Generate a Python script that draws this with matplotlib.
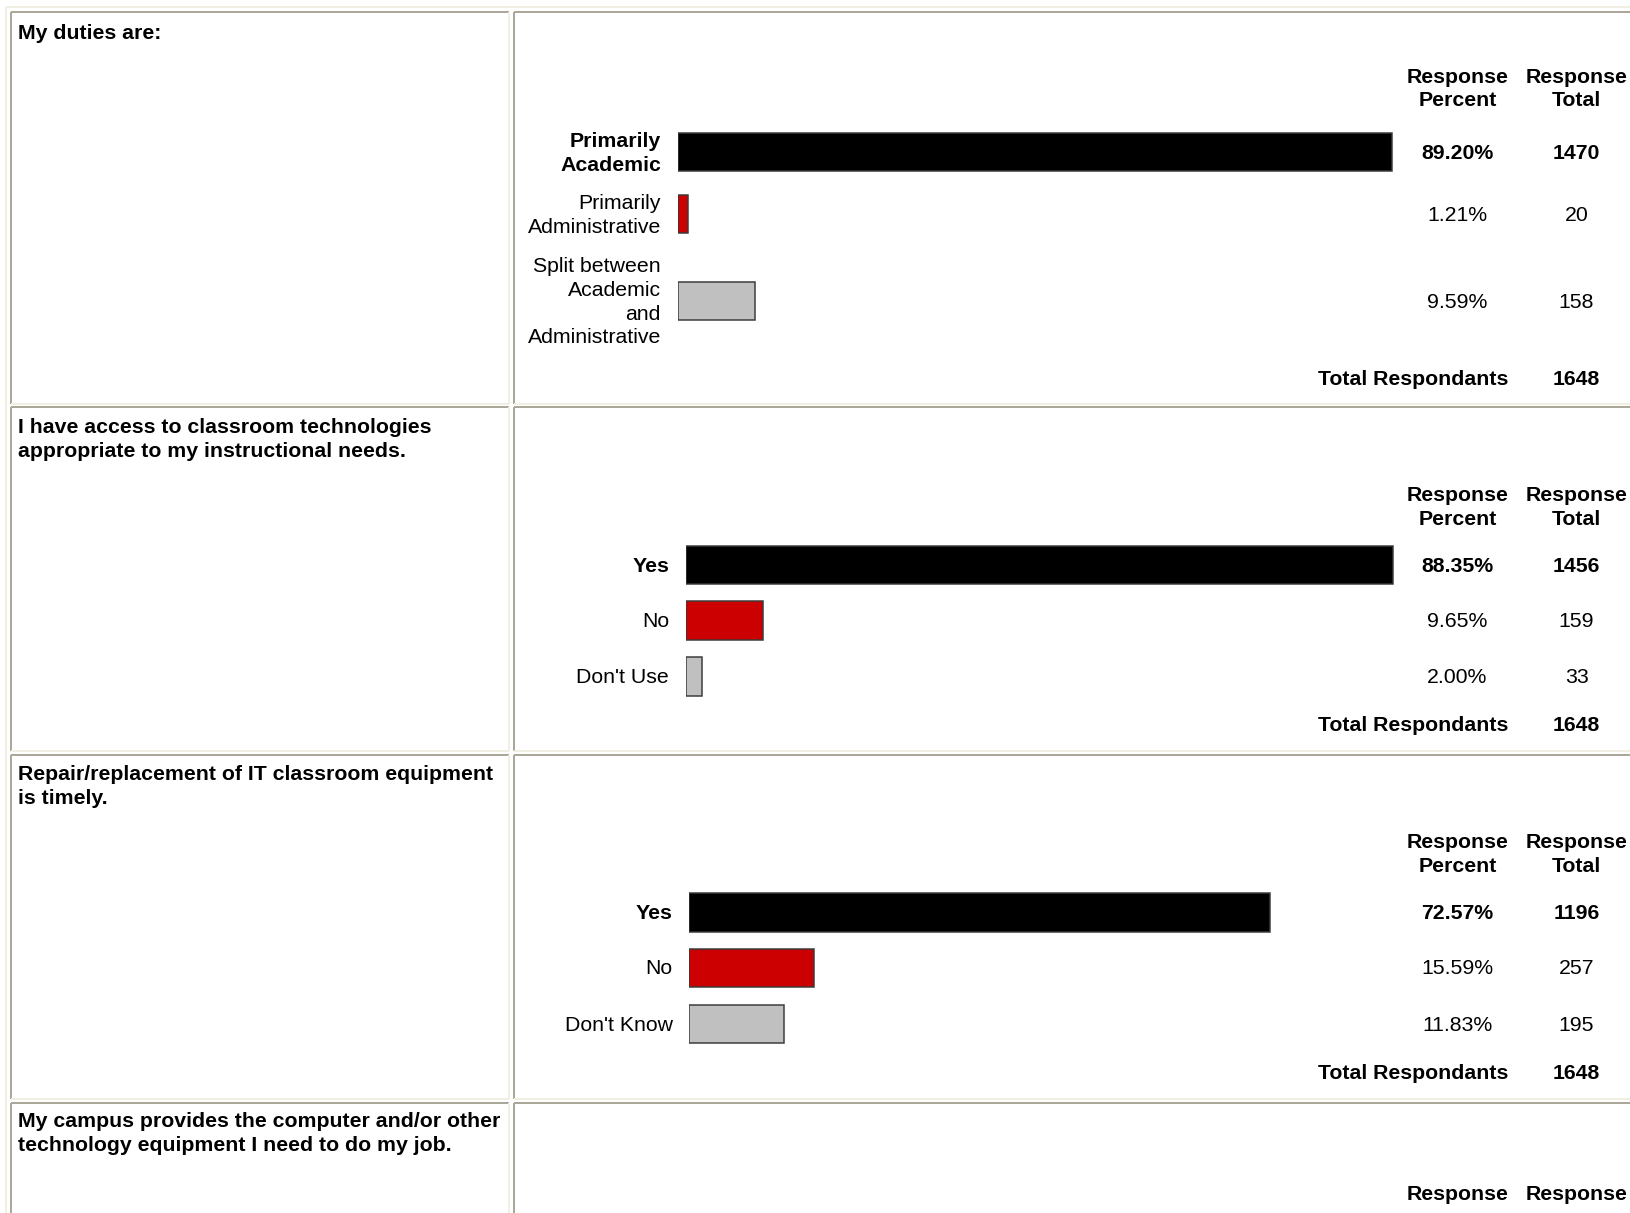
import matplotlib
matplotlib.use("Agg")
import matplotlib.pyplot as plt

W, H = 1630, 1213
DPI = 100
PX = 72.0 / DPI  # points per pixel

# ---------------- data ----------------
titles = [
    "My duties are:",
    "I have access to classroom technologies\nappropriate to my instructional needs.",
    "Repair/replacement of IT classroom equipment\nis timely.",
    "My campus provides the computer and/or other\ntechnology equipment I need to do my job.",
]
q1_labels = ["Primarily\nAcademic", "Primarily\nAdministrative",
             "Split between\nAcademic\nand\nAdministrative"]
q1_pct = [89.20, 1.21, 9.59]
q1_total = [1470, 20, 158]

q2_labels = ["Yes", "No", "Don't Use"]
q2_pct = [88.35, 9.65, 2.00]
q2_total = [1456, 159, 33]

q3_labels = ["Yes", "No", "Don't Know"]
q3_pct = [72.57, 15.59, 11.83]
q3_total = [1196, 257, 195]

respondents = [1648, 1648, 1648]
header = ["Response\nPercent", "Response\nTotal"]
total_label = "Total Respondants"
bar_colors = ["#000000", "#CC0000", "#C0C0C0"]

# ---------------- layout (pixels) ----------------
panels = [
    dict(top=12, bottom=404, title_y=[32], head_y=[76, 99.5],
         row_y=[152, 214, 301], total_y=378, lab_x=661, bar_x=678),
    dict(top=407, bottom=751, title_y=[426, 450], head_y=[494, 518],
         row_y=[565, 620.6, 676.7], total_y=724.5, lab_x=669, bar_x=686),
    dict(top=755, bottom=1099, title_y=[773, 797], head_y=[841, 865],
         row_y=[912.7, 967.8, 1024], total_y=1072.8, lab_x=672.6, bar_x=689),
    dict(top=1103, bottom=None, title_y=[1120.6, 1144.5], head_y=[1193.5]),
]
questions = [(q1_labels, q1_pct, q1_total), (q2_labels, q2_pct, q2_total),
             (q3_labels, q3_pct, q3_total)]

FPX = 21.3
FS = FPX * PX
CAP = 0.716 * FPX / 2 - 1.0   # baseline offset from visual centre (px)
LINE = 23.8
PCT_X = 1457.5
TOT_X = 1576.5
FULL = 800            # px for 100 %

plt.rcParams['font.family'] = ['Liberation Sans', 'DejaVu Sans']

fig = plt.figure(figsize=(W / DPI, H / DPI), dpi=DPI)
fig.patch.set_facecolor("white")
ax = fig.add_axes([0, 0, 1, 1])
ax.set_xlim(0, W)
ax.set_ylim(H, 0)
ax.axis("off")

DARK = "#ACA899"
LIGHT = "#F1EFE2"
LW = 2 * PX


def hline(x0, x1, y, c, lw=LW):
    ax.plot([x0, x1], [y, y], color=c, lw=lw, solid_capstyle="butt", zorder=1)


def vline(x, y0, y1, c, lw=LW):
    ax.plot([x, x], [y0, y1], color=c, lw=lw, solid_capstyle="butt", zorder=1)


# outer table edges (top/left, light)
hline(6, W, 7, LIGHT)
vline(6, 7, H, LIGHT)


def cell(x0, x1, y0, y1):
    yb = H + 5 if y1 is None else y1
    xr = W + 5 if x1 is None else x1
    hline(x0, xr, y0, DARK)
    vline(x0, y0, yb, DARK)
    if y1 is not None:
        hline(x0, xr, y1, LIGHT)
    if x1 is not None:
        vline(x1, y0, yb, LIGHT)


def text_line(x, yc, s, ha="left", bold=False):
    ax.text(x, yc + CAP, s, ha=ha, va="baseline", fontsize=FS,
            fontweight="bold" if bold else "normal", color="black", zorder=3)


for i, p in enumerate(panels):
    cell(11, 509, p["top"], p["bottom"])
    cell(514, None, p["top"], p["bottom"])
    for line, y in zip(titles[i].split("\n"), p["title_y"]):
        text_line(17.5, y, line, bold=True)
    # column headers
    h1 = header[0].split("\n")
    h2 = header[1].split("\n")
    for k, y in enumerate(p["head_y"]):
        text_line(PCT_X, y, h1[k], ha="center", bold=True)
        text_line(TOT_X, y, h2[k], ha="center", bold=True)

    if i >= len(questions):
        continue
    labels, pct, tot = questions[i]

    # bars via their own axes: 0..100 % spans FULL px
    bax = fig.add_axes([p["bar_x"] / W, 0, FULL / W, 1])
    bax.set_xlim(0, 100)
    bax.set_ylim(H, 0)
    bax.axis("off")
    bax.patch.set_alpha(0)
    bax.barh(p["row_y"], pct, height=38.5, color=bar_colors,
             edgecolor="#3a3a3a", linewidth=1.5 * PX, left=0)

    for j, (lab, v, t, y) in enumerate(zip(labels, pct, tot, p["row_y"])):
        bold = (j == 0)
        lines = lab.split("\n")
        n = len(lines)
        for k, ln in enumerate(lines):
            yy = y + (k - (n - 1) / 2) * LINE
            text_line(p["lab_x"], yy, ln, ha="right", bold=bold)
        text_line(PCT_X, y, f"{v:.2f}%", ha="center", bold=bold)
        text_line(TOT_X, y, f"{t}", ha="center", bold=bold)

    text_line(1508, p["total_y"], total_label, ha="right", bold=True)
    text_line(TOT_X, p["total_y"], f"{respondents[i]}", ha="center", bold=True)

fig.savefig("out.png", dpi=DPI, facecolor="white")
